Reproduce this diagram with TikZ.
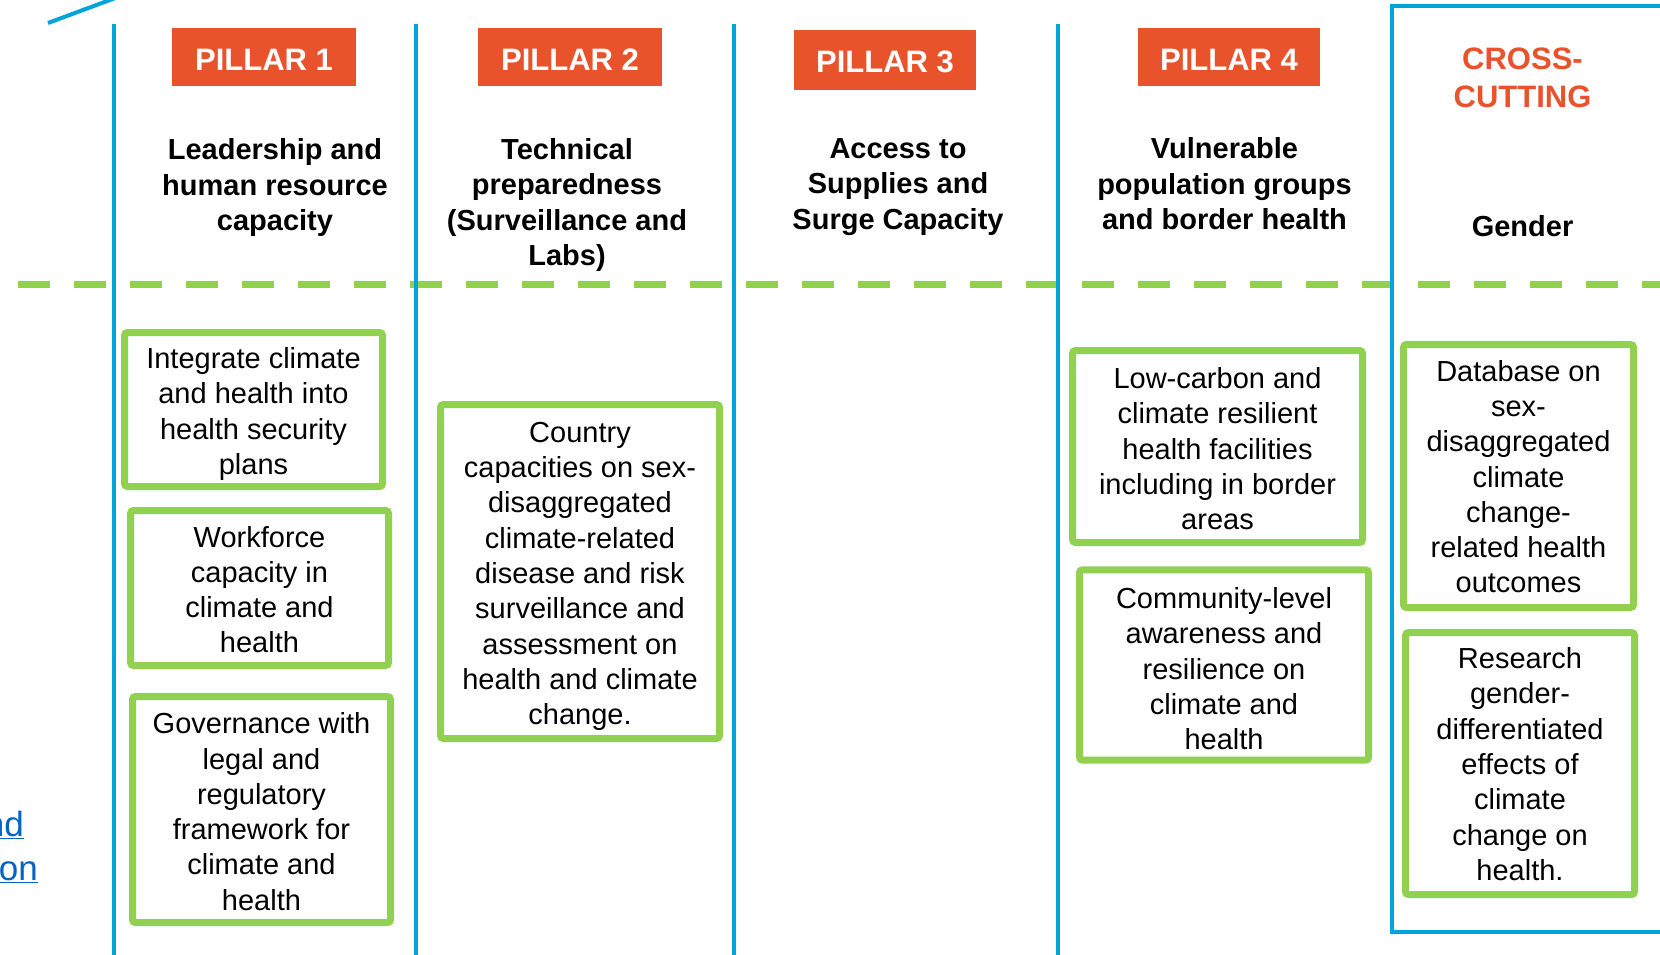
\documentclass[tikz,border=0pt]{standalone}
\usepackage{fontspec}
\setmainfont{Liberation Sans}
\definecolor{pblue}{RGB}{0,163,218}
\definecolor{porange}{RGB}{233,83,44}
\definecolor{pgreen}{RGB}{146,208,80}
\definecolor{plink}{RGB}{5,99,193}
% #1: distance (pt) from the box centre down to the mean baseline of the lines
\newcommand\gtext[2][12.7]{\begin{tabular}{@{}c@{}}\rule{0pt}{\dimexpr #1pt*2+10.6pt\relax}#2\end{tabular}}
\begin{document}
\begin{tikzpicture}[x=1pt,y=-1pt,
  pillar/.style={fill=porange,text=white,font=\bfseries\fontsize{31}{37}\selectfont,inner sep=0pt,minimum width=184pt,minimum height=58pt,text height=26.8pt,text depth=0pt},
  header/.style={font=\bfseries\fontsize{29}{35.5}\selectfont,align=center,inner sep=0pt},
  gbox/.style={draw=pgreen,fill=white,line width=7pt,rounded corners=3pt,font=\fontsize{29}{35.3}\selectfont,inner sep=0pt},
  divider/.style={draw=pblue,line width=4pt},
  sepline/.style={draw=pgreen,line width=7pt,dash pattern=on 32pt off 24pt},
  link/.style={text=plink,font=\fontsize{35}{40}\selectfont,inner sep=0pt}]
\clip (0,0) rectangle (1660,954);
\fill[white] (0,0) rectangle (1660,954);

% fragments at the left edge
\draw[divider] (48,23) -- (118,-3);
\node[link,anchor=base east] (frag1) at (24,836) {\underline{nd}};
\node[link,anchor=base east] (frag2) at (38,880) {\underline{on}};

% separating dashed line
\coordinate (sepL) at (18,284);
\coordinate (sepR) at (1680,284);
\draw[sepline] (sepL) -- (sepR);

% column dividers
\draw[divider] (114,24) -- (114,960);
\draw[divider] (416,24) -- (416,960);
\draw[divider] (734,24) -- (734,960);
\draw[divider] (1058,24) -- (1058,960);
\draw[divider] (1392,6) rectangle (1700,932);

% pillar labels
\node[pillar] (p1) at (264,57) {PILLAR 1};
\node[pillar] (p2) at (570,57) {PILLAR 2};
\node[pillar,minimum width=182pt,minimum height=60pt] (p3) at (885,59.5) {PILLAR 3};
\node[pillar,minimum width=182pt] (p4) at (1229,57) {PILLAR 4};
\node[font=\bfseries\fontsize{31}{38}\selectfont,text=porange,align=center,inner sep=0pt] (cc) at (1522.5,78) {CROSS-\\CUTTING};

% headers
\node[header] (h1) at (275,187.5) {Leadership and\\human resource\\capacity};
\node[header] (h2) at (567,205) {Technical\\preparedness\\(Surveillance and\\Labs)};
\node[header] (h3) at (898,187) {Access to\\Supplies and\\Surge Capacity};
\node[header] (h4) at (1224.5,184) {Vulnerable\\population groups\\and border health};
\node[header] (h5) at (1522.5,226) {Gender};

% pillar 1 boxes
\node[gbox,minimum width=258pt,minimum height=154pt] (a) at (253.5,409.5) {\gtext[12]{Integrate climate\\and health into\\health security\\plans}};
\node[gbox,minimum width=258pt,minimum height=155pt] (b) at (259.5,588) {\gtext[12]{Workforce\\capacity in\\climate and\\health}};
\node[gbox,minimum width=258pt,minimum height=226pt] (c) at (261.5,809.5) {\gtext[12.5]{Governance with\\legal and\\regulatory\\framework for\\climate and\\health}};
% pillar 2
\node[gbox,minimum width=279pt,minimum height=334pt] (d) at (580,571.5) {\gtext[12]{Country\\capacities on sex-\\disaggregated\\climate-related\\disease and risk\\surveillance and\\assessment on\\health and climate\\change.}};
% pillar 4
\node[gbox,minimum width=290pt,minimum height=192pt] (e) at (1217.5,446.5) {\gtext[12.5]{Low-carbon and\\climate resilient\\health facilities\\including in border\\areas}};
\node[gbox,minimum width=289pt,minimum height=189pt] (f) at (1224,665) {\gtext[14]{Community-level\\awareness and\\resilience on\\climate and\\health}};
% cross-cutting
\node[gbox,minimum width=230pt,minimum height=263pt] (g) at (1518.5,476) {\gtext[11]{Database on\\sex-\\disaggregated\\climate\\change-\\related health\\outcomes}};
\node[gbox,minimum width=229pt,minimum height=262pt] (h) at (1520,763.5) {\gtext[11]{Research\\gender-\\differentiated\\effects of\\climate\\change on\\health.}};
\end{tikzpicture}
\end{document}
